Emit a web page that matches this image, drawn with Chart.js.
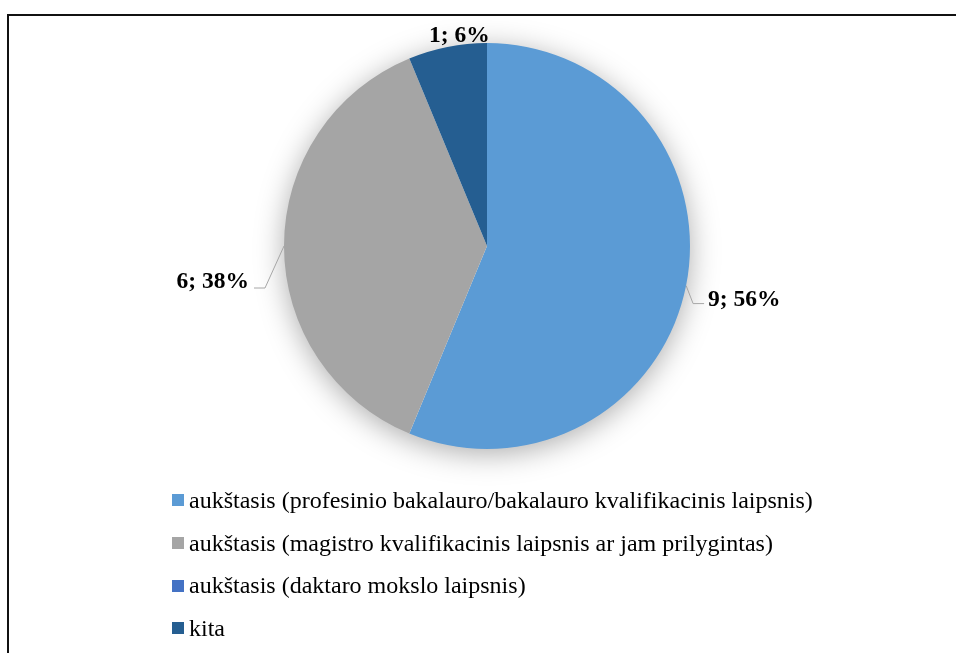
<!DOCTYPE html>
<html>
<head>
<meta charset="utf-8">
<script src="https://cdn.jsdelivr.net/npm/chart.js@4/dist/chart.umd.min.js"></script>
<style>
  html, body { margin: 0; padding: 0; background: #fff; }
  #wrap { position: relative; width: 956px; height: 653px; overflow: hidden; }
  #frame { position: absolute; left: 7px; top: 14px; width: 960px; height: 700px;
           border-top: 2px solid #111; border-left: 2px solid #111; box-sizing: border-box; }
  #pieChart { position: absolute; left: 0; top: 0; }
  #legend { position: absolute; left: 172px; top: 479px; font-family: "Liberation Serif", "Times New Roman", serif;
            font-size: 24px; color: #000; }
  .item { height: 42.7px; display: flex; align-items: center; white-space: nowrap; }
  .box { width: 12px; height: 12px; margin-right: 5px; flex: none; position: relative; top: 0px; }
</style>
</head>
<body>
<div id="wrap">
  <div id="frame"></div>
  <canvas id="pieChart" width="956" height="653"></canvas>
  <div id="legend"></div>
</div>
<script>
const categories = [
    'aukštasis (profesinio bakalauro/bakalauro kvalifikacinis laipsnis)',
    'aukštasis (magistro kvalifikacinis laipsnis ar jam prilygintas)',
    'aukštasis (daktaro mokslo laipsnis)',
    'kita'
];
const counts = [9, 6, 0, 1];
const percentLabels = ['56%', '38%', '0%', '6%'];
const colors = ['#5B9BD5', '#A5A5A5', '#4472C4', '#255E91'];

// soft glow under the pie (Excel outer shadow)
const pieShadow = {
    id: 'pieShadow',
    beforeDatasetsDraw(chart) {
        const arc = chart.getDatasetMeta(0).data[0];
        if (!arc) return;
        const ctx = chart.ctx;
        ctx.save();
        ctx.shadowColor = 'rgba(0,0,0,0.34)';
        ctx.shadowBlur = 30;
        ctx.shadowOffsetY = 5;
        ctx.fillStyle = '#fff';
        ctx.beginPath();
        ctx.arc(arc.x, arc.y, arc.outerRadius - 1, 0, Math.PI * 2);
        ctx.fill();
        ctx.restore();
    }
};

// data labels "value; percent" with Excel-like leader lines
const leaderLabels = {
    id: 'leaderLabels',
    afterDatasetsDraw(chart) {
        const ctx = chart.ctx;
        const meta = chart.getDatasetMeta(0);
        // offsets from the arc edge point at mid angle
        const place = {
            0: { elbow: [7, 18], end: [18, 18], text: [22, 20], align: 'left' },
            1: { elbow: [-19, 42], end: [-30, 42], text: [-35, 42], align: 'right' },
            3: { text: [12, -5], align: 'center' }
        };
        ctx.save();
        ctx.font = 'bold 23.5px "Liberation Serif", "Times New Roman", serif';
        ctx.fillStyle = '#000';
        ctx.strokeStyle = '#A6A6A6';
        ctx.lineWidth = 1;
        meta.data.forEach((arc, i) => {
            if (!counts[i]) return;
            const p = place[i];
            if (!p) return;
            const mid = (arc.startAngle + arc.endAngle) / 2;
            const ex = arc.x + Math.cos(mid) * arc.outerRadius;
            const ey = arc.y + Math.sin(mid) * arc.outerRadius;
            if (p.elbow) {
                ctx.beginPath();
                ctx.moveTo(ex, ey);
                ctx.lineTo(ex + p.elbow[0], ey + p.elbow[1]);
                ctx.lineTo(ex + p.end[0], ey + p.end[1]);
                ctx.stroke();
            }
            ctx.textAlign = p.align;
            ctx.textBaseline = 'alphabetic';
            ctx.fillText(counts[i] + '; ' + percentLabels[i], ex + p.text[0], ey + p.text[1]);
        });
        ctx.restore();
    }
};

const ctx = document.getElementById('pieChart').getContext('2d');
const chart = new Chart(ctx, {
    type: 'pie',
    data: {
        labels: categories,
        datasets: [{
            data: counts,
            backgroundColor: colors,
            borderWidth: 0
        }]
    },
    options: {
        responsive: false,
        animation: false,
        layout: { padding: { top: 43, bottom: 204, left: 284, right: 266 } },
        plugins: {
            legend: { display: false },
            tooltip: { enabled: false }
        }
    },
    plugins: [pieShadow, leaderLabels]
});

// legend
const legendDiv = document.getElementById('legend');
categories.forEach((name, i) => {
    const row = document.createElement('div');
    row.className = 'item';
    row.innerHTML = `<span class="box" style="background:${colors[i]}"></span><span>${name}</span>`;
    legendDiv.appendChild(row);
});
</script>
</body>
</html>
